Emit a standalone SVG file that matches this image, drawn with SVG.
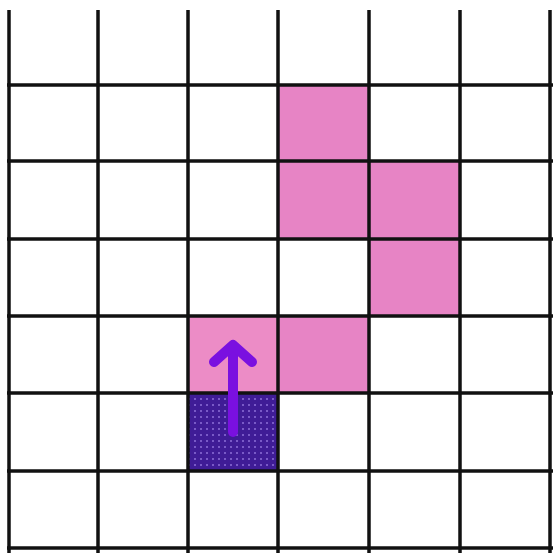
<svg xmlns="http://www.w3.org/2000/svg" width="553" height="555" viewBox="0 0 553 555">
<style>
.g line{stroke:#111;stroke-width:3.5}
.pink{fill:#E784C5}
</style>
<defs>
<pattern id="dots" width="6" height="6" patternUnits="userSpaceOnUse">
<rect width="6" height="6" fill="#3F1C96"/>
<circle cx="3" cy="3" r="1" fill="#8C6FD8"/>
</pattern>
</defs>
<rect width="553" height="555" fill="#fff"/>
<g id="cells">
<rect class="pink" x="278" y="85" width="91" height="76"/>
<rect class="pink" x="278" y="161" width="91" height="78"/>
<rect class="pink" x="369" y="161" width="91" height="78"/>
<rect class="pink" x="369" y="239" width="91" height="77"/>
<rect x="188" y="316" width="90" height="77" fill="#EC8CC6"/>
<rect class="pink" x="278" y="316" width="91" height="77"/>
<rect x="188" y="393" width="90" height="78" fill="url(#dots)"/>
</g>
<g class="g" id="grid">
<line x1="9" y1="10" x2="9" y2="553"/>
<line x1="98" y1="10" x2="98" y2="553"/>
<line x1="188" y1="10" x2="188" y2="553"/>
<line x1="278" y1="10" x2="278" y2="553"/>
<line x1="369" y1="10" x2="369" y2="553"/>
<line x1="460" y1="10" x2="460" y2="553"/>
<line x1="550" y1="10" x2="550" y2="553"/>
<line x1="7" y1="85" x2="553" y2="85"/>
<line x1="7" y1="161" x2="553" y2="161"/>
<line x1="7" y1="239" x2="553" y2="239"/>
<line x1="7" y1="316" x2="553" y2="316"/>
<line x1="7" y1="393" x2="553" y2="393"/>
<line x1="7" y1="471" x2="553" y2="471"/>
<line x1="7" y1="548" x2="553" y2="548"/>
</g>
<g id="arrow" fill="none" stroke="#7A10E0" stroke-width="10" stroke-linecap="round" stroke-linejoin="round">
<line x1="233" y1="432" x2="233" y2="347"/>
<polyline points="214,362 233,345 252,362"/>
</g>
</svg>
